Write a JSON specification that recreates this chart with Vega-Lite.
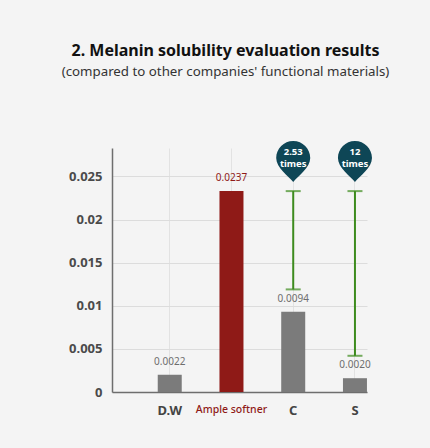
{
  "$schema": "https://vega.github.io/schema/vega-lite/v6.json",
  "autosize": "none",
  "width": 255,
  "height": 244,
  "padding": {"left": 112, "top": 148, "right": 63, "bottom": 56},
  "background": "#f4f4f4",
  "title": {
    "text": "2. Melanin solubility evaluation results",
    "subtitle": "(compared to other companies' functional materials)",
    "anchor": "middle",
    "dx": -14,
    "offset": 63,
    "font": "Noto Sans",
    "fontSize": 16,
    "fontWeight": "bold",
    "color": "#111111",
    "subtitleFont": "Noto Sans",
    "subtitleFontSize": 13.3,
    "subtitleColor": "#333333",
    "subtitlePadding": 6
  },
  "config": {
    "view": {"stroke": null},
    "font": "Noto Sans"
  },
  "datasets": {
    "bars": [
      {"sample": "D.W", "value": 0.0020, "label": "0.0022"},
      {"sample": "Ample softner", "value": 0.0233, "label": "0.0237"},
      {"sample": "C", "value": 0.0093, "label": "0.0094"},
      {"sample": "S", "value": 0.0016, "label": "0.0020"}
    ],
    "ranges": [
      {"sample": "C", "lo": 0.0119, "hi": 0.0233, "times": ["2.53", "times"]},
      {"sample": "S", "lo": 0.0042, "hi": 0.0233, "times": ["12", "times"]}
    ]
  },
  "encoding": {
    "x": {
      "field": "sample",
      "type": "nominal",
      "sort": null,
      "title": null,
      "scale": {
        "domain": ["D.W", "Ample softner", "C", "S"],
        "paddingInner": 0.61,
        "paddingOuter": 0.37,
        "align": 1
      },
      "axis": {
        "labelAngle": 0,
        "ticks": false,
        "grid": true,
        "bandPosition": 0.5,
        "gridColor": "#e2e2e2",
        "domainColor": "#6e6e6e",
        "domainWidth": 1.5,
        "labelPadding": 12,
        "labelFontSize": {"condition": {"test": "datum.value === 'Ample softner'", "value": 10.5}, "value": 13},
        "labelFontWeight": {"condition": {"test": "datum.value === 'Ample softner'", "value": 500}, "value": "bold"},
        "labelColor": {"condition": {"test": "datum.value === 'Ample softner'", "value": "#8f1a17"}, "value": "#444444"}
      }
    }
  },
  "layer": [
    {
      "data": {"name": "bars"},
      "mark": {"type": "bar", "width": 24},
      "encoding": {
        "y": {
          "field": "value",
          "type": "quantitative",
          "title": null,
          "scale": {"domain": [0, 0.0283], "nice": false},
          "axis": {
            "values": [0, 0.005, 0.01, 0.015, 0.02, 0.025],
            "format": "~g",
            "ticks": false,
            "gridColor": "#dcdcdc",
            "domainColor": "#6e6e6e",
            "domainWidth": 1.5,
            "labelPadding": 10,
            "labelFontSize": 13,
            "labelFontWeight": "bold",
            "labelColor": "#4a4a4a"
          }
        },
        "color": {
          "condition": {"test": "datum.sample === 'Ample softner'", "value": "#8f1a17"},
          "value": "#7b7b7b"
        }
      }
    },
    {
      "data": {"name": "bars"},
      "mark": {"type": "text", "dy": -8, "baseline": "bottom", "fontSize": 10},
      "encoding": {
        "y": {"field": "value", "type": "quantitative"},
        "text": {"field": "label"},
        "color": {
          "condition": {"test": "datum.sample === 'Ample softner'", "value": "#8f1a17"},
          "value": "#6e6e6e"
        },
        "fontWeight": {
          "condition": {"test": "datum.sample === 'Ample softner'", "value": "bold"},
          "value": "normal"
        }
      }
    },
    {
      "data": {"name": "ranges"},
      "mark": {"type": "rule", "color": "#3d8b1e", "strokeWidth": 2},
      "encoding": {
        "y": {"field": "lo", "type": "quantitative"},
        "y2": {"field": "hi"}
      }
    },
    {
      "data": {"name": "ranges"},
      "mark": {"type": "tick", "color": "#3d8b1e", "size": 15, "thickness": 2},
      "encoding": {
        "y": {"field": "lo", "type": "quantitative"}
      }
    },
    {
      "data": {"name": "ranges"},
      "mark": {"type": "tick", "color": "#3d8b1e", "size": 15, "thickness": 2},
      "encoding": {
        "y": {"field": "hi", "type": "quantitative"}
      }
    },
    {
      "data": {"name": "ranges"},
      "mark": {
        "type": "point",
        "filled": true,
        "opacity": 1,
        "size": 1681,
        "yOffset": -29.5,
        "color": "#0e4656",
        "shape": "M0,1 C-0.25,0.7 -0.83,0.3 -0.83,-0.17 A0.83,0.83 0 1 1 0.83,-0.17 C0.83,0.3 0.25,0.7 0,1 Z"
      },
      "encoding": {
        "y": {"field": "hi", "type": "quantitative"}
      }
    },
    {
      "data": {"name": "ranges"},
      "mark": {
        "type": "text",
        "yOffset": -39,
        "baseline": "middle",
        "lineHeight": 11.5,
        "fontSize": 9.5,
        "fontWeight": "bold",
        "color": "#ffffff"
      },
      "encoding": {
        "y": {"field": "hi", "type": "quantitative"},
        "text": {"field": "times"}
      }
    }
  ]
}
